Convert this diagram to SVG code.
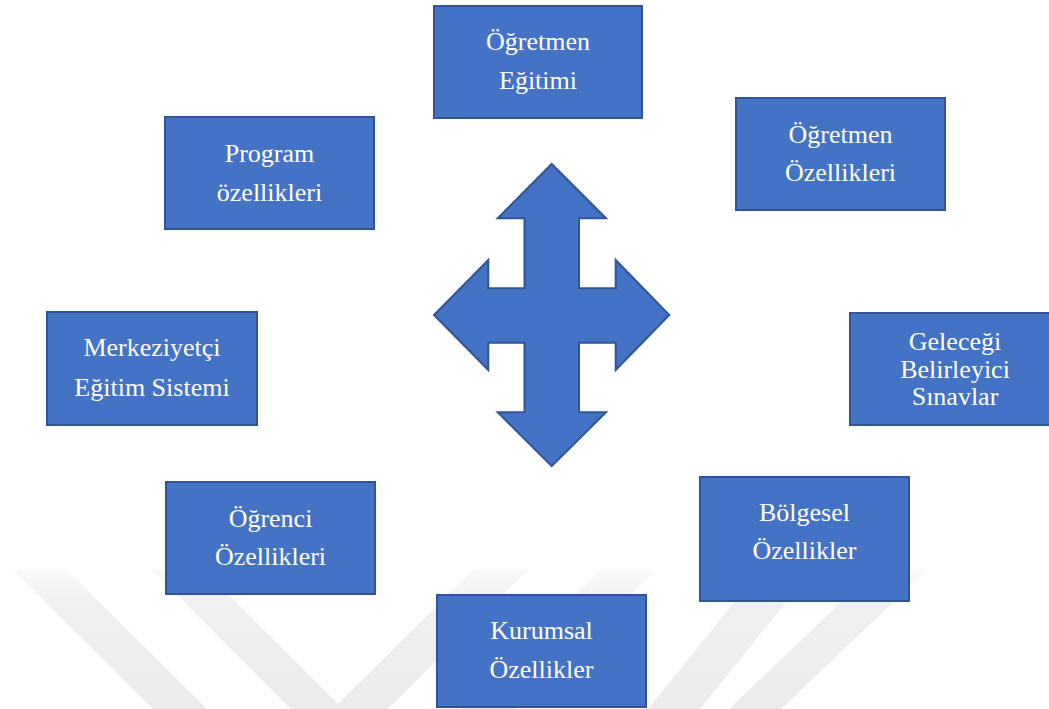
<svg xmlns="http://www.w3.org/2000/svg" width="1049" height="709" viewBox="0 0 1049 709">
<defs>
<linearGradient id="wm" x1="0" y1="568" x2="0" y2="709" gradientUnits="userSpaceOnUse">
<stop offset="0" stop-color="#fafafa"/>
<stop offset="0.25" stop-color="#f0f0f0"/>
<stop offset="1" stop-color="#ebebeb"/>
</linearGradient>
<style>
.box{fill:#4472c4;stroke:#2f5597;stroke-width:2}
.lbl{fill:#ffffff;font-family:"Liberation Serif","Times New Roman",serif;font-size:26px;text-anchor:middle}
.wm{fill:url(#wm)}
</style>
</defs>
<rect width="1049" height="709" fill="#ffffff"/>
<g id="watermark">
<polygon class="wm" points="13,570 67,570 207,709 153,709"/>
<polygon class="wm" points="152,570 204,570 343,709 291,709"/>
<polygon class="wm" points="473,570 528,570 388,709 333,709"/>
<polygon class="wm" points="600,570 655,570 516,709 461,709"/>
<polygon class="wm" points="760,570 812,570 700,709 648,709"/>
<polygon class="wm" points="875,570 927,570 781,709 729,709"/>
</g>
<g id="connectors">
<polygon id="cross-arrow" points="551.7,164 606,218.3 579,218.3 579,288.3 615.7,288.3 615.7,260 669.3,315 615.7,370 615.7,342.7 579,342.7 579,412.3 606,412.3 551.7,466 497.7,412.3 524.5,412.3 524.5,342.7 488.3,342.7 488.3,370 434,315 488.3,260 488.3,288.3 524.5,288.3 524.5,218.3 497.7,218.3" fill="#4472c4" stroke="#2f5597" stroke-width="2" stroke-linejoin="miter"/>
</g>
<g id="n-ogretmen-egitimi">
<rect class="box" x="434" y="6" width="208" height="112"/>
<text class="lbl" x="538" y="50">Öğretmen</text>
<text class="lbl" x="538" y="89">Eğitimi</text>
</g>
<g id="n-program">
<rect class="box" x="165" y="117" width="209" height="112"/>
<text class="lbl" x="269.5" y="162">Program</text>
<text class="lbl" x="269.5" y="201">özellikleri</text>
</g>
<g id="n-ogretmen-ozellikleri">
<rect class="box" x="736" y="98" width="209" height="112"/>
<text class="lbl" x="840.5" y="143">Öğretmen</text>
<text class="lbl" x="840.5" y="181">Özellikleri</text>
</g>
<g id="n-merkeziyetci">
<rect class="box" x="47" y="312" width="210" height="113"/>
<text class="lbl" x="152" y="356">Merkeziyetçi</text>
<text class="lbl" x="152" y="396">Eğitim Sistemi</text>
</g>
<g id="n-gelecegi">
<rect class="box" x="850" y="313" width="210" height="112"/>
<text class="lbl" x="955" y="350">Geleceği</text>
<text class="lbl" x="955" y="378">Belirleyici</text>
<text class="lbl" x="955" y="405">Sınavlar</text>
</g>
<g id="n-ogrenci">
<rect class="box" x="166" y="482" width="209" height="112"/>
<text class="lbl" x="270.5" y="527">Öğrenci</text>
<text class="lbl" x="270.5" y="565">Özellikleri</text>
</g>
<g id="n-bolgesel">
<rect class="box" x="700" y="477" width="209" height="124"/>
<text class="lbl" x="804.5" y="521">Bölgesel</text>
<text class="lbl" x="804.5" y="559">Özellikler</text>
</g>
<g id="n-kurumsal">
<rect class="box" x="437" y="595" width="209" height="112"/>
<text class="lbl" x="541.5" y="639">Kurumsal</text>
<text class="lbl" x="541.5" y="678">Özellikler</text>
</g>
</svg>
